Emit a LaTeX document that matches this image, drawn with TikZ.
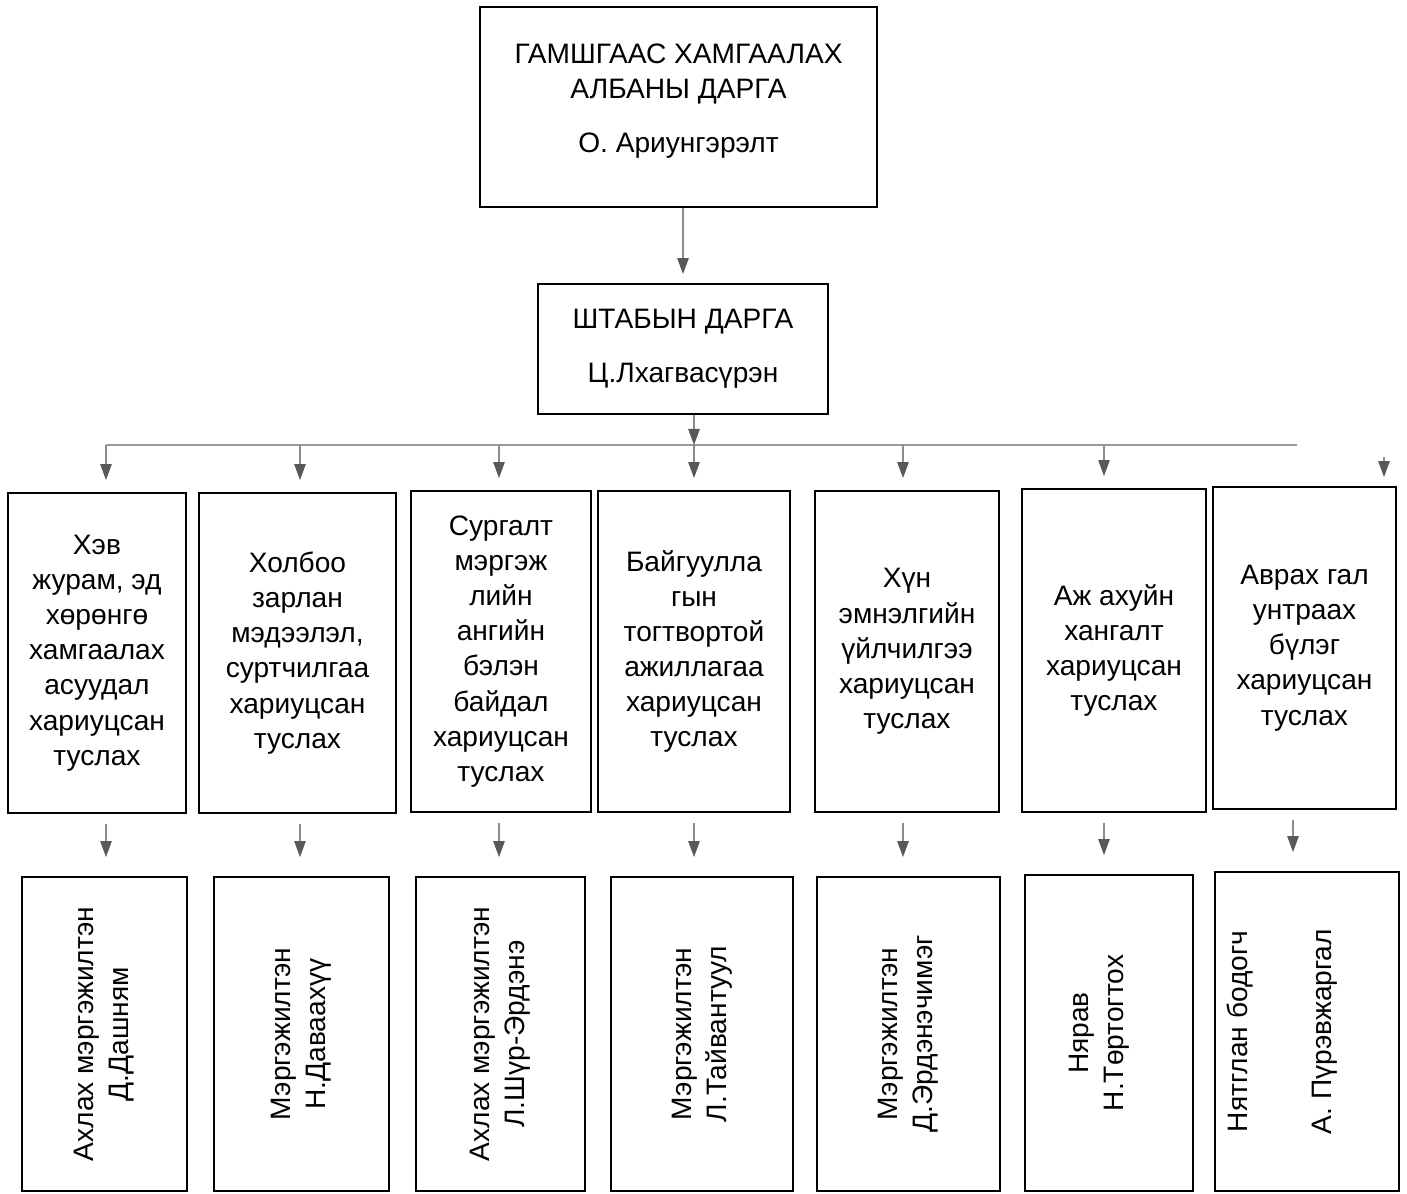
\documentclass[tikz,border=0pt]{standalone}
\usepackage{fontspec}
\setmainfont{Liberation Sans}
\usetikzlibrary{arrows.meta}
\tikzset{
  box/.style={draw, line width=1.1pt, align=center, inner sep=2pt, font=\fontsize{16}{20}\selectfont},
  link/.style={draw=black!45, line width=0.6pt, -{Triangle[length=3.2mm,width=2.3mm,color=black!65,fill=black!65]}},
}
\begin{document}
\begin{tikzpicture}
	\useasboundingbox (0,0) rectangle (28.14,-23.88);
	% head and staff
	\node [box, minimum width=7.94cm, minimum height=4cm] (chief) at (13.57,-2.14) {ГАМШГААС ХАМГААЛАХ\\АЛБАНЫ ДАРГА\\[11pt]О. Ариунгэрэлт\\[-10pt]\mbox{}};
	\node [box, minimum width=5.8cm, minimum height=2.6cm] (staff) at (13.66,-6.98) {ШТАБЫН ДАРГА\\[11pt]Ц.Лхагвасүрэн};
	% assistants
	\node [box, minimum width=3.56cm, minimum height=6.4cm] (m1) at (1.94,-13.06) {Хэв\\журам, эд\\хөрөнгө\\хамгаалах\\асуудал\\хариуцсан\\туслах};
	\node [box, minimum width=3.94cm, minimum height=6.4cm] (m2) at (5.95,-13.06) {Холбоо\\зарлан\\мэдээлэл,\\суртчилгаа\\хариуцсан\\туслах};
	\node [box, minimum width=3.6cm, minimum height=6.42cm] (m3) at (10.02,-13.03) {Сургалт\\мэргэж\\лийн\\ангийн\\бэлэн\\байдал\\хариуцсан\\туслах};
	\node [box, minimum width=3.84cm, minimum height=6.42cm] (m4) at (13.88,-13.03) {Байгуулла\\гын\\тогтвортой\\ажиллагаа\\хариуцсан\\туслах};
	\node [box, minimum width=3.68cm, minimum height=6.42cm] (m5) at (18.14,-13.03) {Хүн\\эмнэлгийн\\үйлчилгээ\\хариуцсан\\туслах};
	\node [box, minimum width=3.68cm, minimum height=6.46cm] (m6) at (22.28,-13.01) {Аж ахуйн\\хангалт\\хариуцсан\\туслах};
	\node [box, minimum width=3.66cm, minimum height=6.44cm] (m7) at (26.09,-12.96) {Аврах гал\\унтраах\\бүлэг\\хариуцсан\\туслах};
	% staff members
	\node [box, minimum width=3.3cm, minimum height=6.28cm] (b1) at (2.09,-20.68) {};
	\node [box, minimum width=3.5cm, minimum height=6.28cm] (b2) at (6.03,-20.68) {};
	\node [box, minimum width=3.38cm, minimum height=6.28cm] (b3) at (10.01,-20.68) {};
	\node [box, minimum width=3.64cm, minimum height=6.28cm] (b4) at (14.04,-20.68) {};
	\node [box, minimum width=3.66cm, minimum height=6.28cm] (b5) at (18.17,-20.68) {};
	\node [box, minimum width=3.36cm, minimum height=6.32cm] (b6) at (22.18,-20.66) {};
	\node [box, minimum width=3.68cm, minimum height=6.38cm] (b7) at (26.14,-20.63) {};
	\node [box, draw=none, rotate=90] (t1) at (b1) {Ахлах мэргэжилтэн\\Д.Дашням};
	\node [box, draw=none, rotate=90] (t2) at (b2) {Мэргэжилтэн\\Н.Даваахүү};
	\node [box, draw=none, rotate=90] (t3) at (b3) {Ахлах мэргэжилтэн\\Л.Шүр-Эрдэнэ};
	\node [box, draw=none, rotate=90] (t4) at (b4) {Мэргэжилтэн\\Л.Тайвантуул};
	\node [box, draw=none, rotate=90] (t5) at (b5) {Мэргэжилтэн\\Д.Эрдэнэчимэг};
	\node [box, draw=none, rotate=90] (t6) at ([xshift=-0.2cm]b6) {Нярав\\Н.Төртогтох};
	\node [box, draw=none, rotate=90] (t7) at ([xshift=-0.5cm]b7) {Нятглан бодогч\\[28pt]А. Пүрэвжаргал};
	% connectors
	\foreach \i/\x in {1/2.12,2/6.0,3/9.98,4/13.88,5/18.06,6/22.08,7/25.86}
		\coordinate (c\i) at (\x,0);
	\coordinate (busL) at (2.12,-8.9);
	\coordinate (busR) at (25.94,-8.9);
	\coordinate (stub) at (27.68,-9.15);
	\draw [link, shorten >=0.18cm] (chief.south -| staff.north) -- (staff.north);
	\draw [black!40, line width=1.2pt] (busL) -- (busR);
	\draw [link] (c4 |- staff.south) -- (c4 |- busL);
	\foreach \i in {1,...,6}
		\draw [link, shorten >=0.24cm] (c\i |- busL) -- (c\i |- m\i.north);
	\draw [link, shorten >=0.18cm] (stub) -- (stub |- m7.north);
	\foreach \i in {1,...,7}
		\draw [link, shorten <=0.2cm, shorten >=0.38cm] (c\i |- m\i.south) -- (c\i |- b\i.north);
\end{tikzpicture}
\end{document}
